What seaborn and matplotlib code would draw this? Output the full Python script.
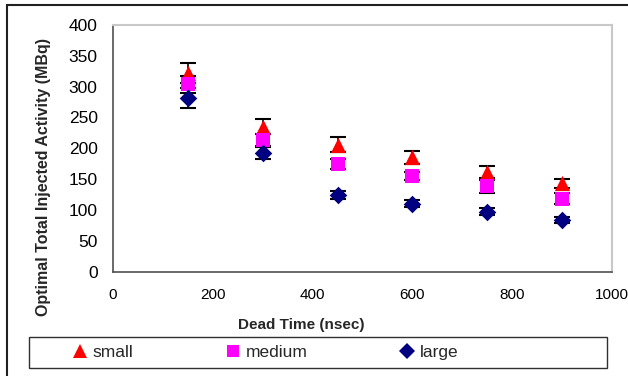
import numpy as np
import pandas as pd
import seaborn as sns
import matplotlib.pyplot as plt
from matplotlib.lines import Line2D
from matplotlib.patches import Rectangle

# data
dead_time = [150, 300, 450, 600, 750, 900]
sizes = ["small", "medium", "large"]
small = [322, 235, 206, 185, 162, 143]
small_err = [16, 12, 12, 10, 10, 7]
medium = [304, 213, 174, 155, 138, 118]
medium_err = [14, 10, 8, 7, 10, 9]
large = [282, 192, 124, 110, 97, 84]
large_err = [16, 10, 6, 6, 6, 5]

df = pd.DataFrame({
    "dead_time": dead_time * 3,
    "activity": small + medium + large,
    "err": small_err + medium_err + large_err,
    "size": np.repeat(sizes, len(dead_time)),
})

colors = {"small": "#ff0000", "medium": "#ff00ff", "large": "#000080"}
markers = {"small": "^", "medium": "s", "large": "D"}
msize = {"small": 120, "medium": 95, "large": 80}

sns.set_style("white")
plt.rcParams["font.family"] = ["Liberation Sans", "DejaVu Sans"]

fig = plt.figure(figsize=(6.28, 3.76), dpi=100)
ax = fig.add_axes([113 / 628, 1 - 271.5 / 376, 499 / 628, 246.5 / 376])

# error bars under the markers
for s in sizes:
    d = df[df["size"] == s]
    ax.errorbar(d["dead_time"], d["activity"], yerr=d["err"], fmt="none",
                ecolor="black", elinewidth=1.2, capsize=5.5, capthick=1.5, zorder=2)

for s in sizes:
    sns.scatterplot(data=df[df["size"] == s], x="dead_time", y="activity",
                    color=colors[s], marker=markers[s], s=msize[s],
                    linewidth=0, ax=ax, zorder=3, legend=False)

ax.set_xlim(0, 1000)
ax.set_ylim(0, 400)
ax.set_xticks(range(0, 1001, 200))
ax.set_yticks(range(0, 401, 50))
ax.tick_params(axis="both", direction="out", length=4, width=1, color="#404040",
               labelcolor="black")
ax.tick_params(axis="y", pad=7, labelsize=12.5)
ax.tick_params(axis="x", pad=8, labelsize=11)

for side in ["left", "bottom"]:
    ax.spines[side].set_color("#505050")
    ax.spines[side].set_linewidth(1.2)
for side in ["top", "right"]:
    ax.spines[side].set_color("#c8c8c8")
    ax.spines[side].set_linewidth(1.5)

ax.set_xlabel("Dead Time (nsec)", fontsize=11, fontweight="bold")
ax.set_ylabel("Optimal Total Injected Activity (MBq)", fontsize=11.5, fontweight="bold")
ax.xaxis.set_label_coords(0.377, -0.19)
ax.yaxis.set_label_coords(-0.124, 0.385)

# outer chart frame
fig.patches.append(Rectangle((7 / 628, -0.1), 1.2, 1 - 5 / 376 + 0.1,
                             transform=fig.transFigure, fill=False,
                             edgecolor="#202020", linewidth=1.5))

# legend box
fig.patches.append(Rectangle((29 / 628, 1 - 368 / 376), 578 / 628, 31 / 376,
                             transform=fig.transFigure, fill=False,
                             edgecolor="#303030", linewidth=1))

handles = [Line2D([], [], linestyle="none", marker=markers[s], color=colors[s],
                  markersize=np.sqrt(msize[s]) * 0.95, markeredgewidth=0)
           for s in sizes]
fig.legend(handles, sizes, loc="center left", ncol=3,
           bbox_to_anchor=(73 / 628, 1 - 352.5 / 376), frameon=False,
           fontsize=12.5, handlelength=0.8, handletextpad=0.35,
           columnspacing=5.3, borderpad=0, borderaxespad=0)

fig.savefig("out.png", dpi=100)
